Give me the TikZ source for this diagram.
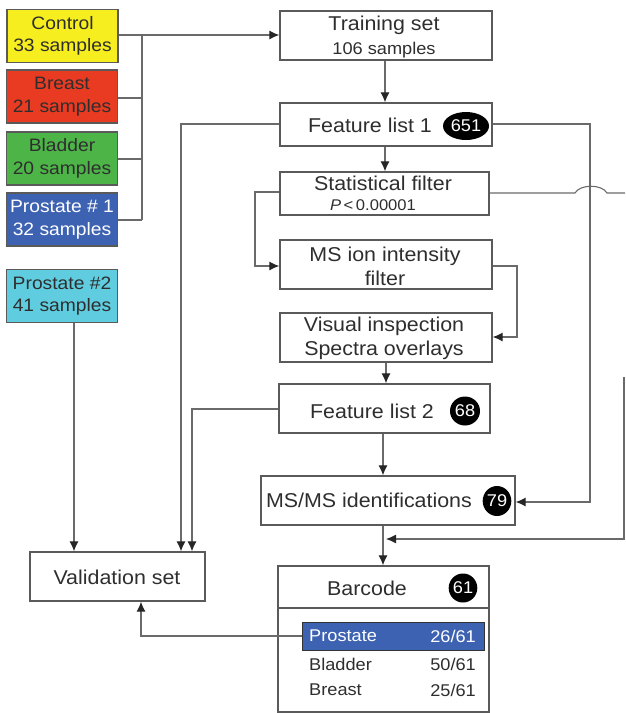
\documentclass[tikz,border=0pt]{standalone}
\usepackage{fontspec}
\setmainfont[FakeStretch=1.07]{Liberation Sans}
\usetikzlibrary{arrows.meta,calc,shapes.geometric}
\definecolor{ln}{HTML}{6A6A6A}
\definecolor{bx}{HTML}{5A5A5A}
\definecolor{tx}{HTML}{2E2E2E}
\definecolor{cyel}{HTML}{F6EE1F}
\definecolor{cred}{HTML}{E93A22}
\definecolor{cgrn}{HTML}{4DB548}
\definecolor{cblu}{HTML}{3E62B2}
\definecolor{ccya}{HTML}{5FCDDF}
\tikzset{
  box/.style={draw=bx,line width=1.3pt,rectangle,inner sep=0pt},
  lbox/.style={box,minimum width=111pt,minimum height=53pt,align=center,text=tx,font=\fontsize{18}{22.5}\selectfont},
  txt/.style={text=tx,inner sep=0pt,font=\fontsize{20}{24}\selectfont},
  stxt/.style={text=tx,inner sep=0pt,font=\fontsize{17}{20}\selectfont},
  badge/.style={fill=black,ellipse,text=white,inner sep=0pt,font=\fontsize{17}{18}\selectfont},
  conn/.style={draw=ln,line width=1.1pt},
  arr/.style={conn,-{Latex[length=10pt,width=9pt,color=black!85]}},
}
\begin{document}
\begin{tikzpicture}[x=1pt,y=-1pt]
\useasboundingbox (0,0) rectangle (625,713);
% left sample boxes
\node[lbox,fill=cyel] (control) at (62.5,36) {Control\\33 samples};
\node[lbox,fill=cred] (breast) at (62,96.5) {Breast\\21 samples};
\node[lbox,fill=cgrn] (bladder) at (62,158.5) {Bladder\\20 samples};
\node[lbox,fill=cblu,text=white] (pros1) at (62,219.5) {Prostate \# 1\\32 samples};
\node[lbox,fill=ccya] (pros2) at (62,296) {Prostate \#2\\41 samples};
% main boxes
\node[box,minimum width=212pt,minimum height=49pt] (train) at (386,35.5) {};
\node[txt] (trainA) at (384,25) {Training set};
\node[stxt] (trainB) at (384,50) {106 samples};
\node[box,minimum width=212pt,minimum height=43pt] (fl1) at (386,124.5) {};
\node[txt] (fl1t) at (370,125) {Feature list 1};
\node[badge,minimum width=46pt,minimum height=28pt] (b651) at (466,126) {651};
\node[box,minimum width=209pt,minimum height=43pt] (stat) at (384.5,193.5) {};
\node[txt] (statA) at (383,183) {Statistical filter};
\node[text=tx,inner sep=0pt,font=\fontsize{15.5}{17}\selectfont] (statB) at (373,205) {\textit{P}\,<\,0.00001};
\node[box,minimum width=212pt,minimum height=49pt] (msion) at (386,264.5) {};
\node[txt,align=center] (msiont) at (385,266) {MS ion intensity\\filter};
\node[box,minimum width=212pt,minimum height=49pt] (visual) at (386,337.5) {};
\node[txt,align=center] (visualt) at (384,338) {Visual inspection\\Spectra overlays};
\node[box,minimum width=211pt,minimum height=49pt] (fl2) at (384.5,408.5) {};
\node[txt] (fl2t) at (372,411) {Feature list 2};
\node[badge,minimum width=30pt,minimum height=29pt] (b68) at (465,411) {68};
\node[box,minimum width=254pt,minimum height=49pt] (msms) at (388,500.5) {};
\node[txt] (msmst) at (369,500) {MS/MS identifications};
\node[badge,minimum width=28pt,minimum height=30pt] (b79) at (497,501) {79};
\node[box,minimum width=175pt,minimum height=49pt] (valid) at (117.5,576.5) {};
\node[txt] (validt) at (117,577) {Validation set};
% barcode
\node[box,minimum width=211pt,minimum height=146pt] (barcode) at (383.5,639) {};
\draw[draw=bx,line width=1.3pt] (barcode.west |- 0,608) -- (barcode.east |- 0,608);
\node[txt] (bart) at (367,588) {Barcode};
\node[badge,minimum width=28pt,minimum height=29pt] (b61) at (463,588) {61};
\node[fill=cblu,draw=black!80,line width=1pt,minimum width=182pt,minimum height=28pt,inner sep=0pt] (prow) at (393,636) {};
\node[text=white,inner sep=0pt,font=\fontsize{17}{20}\selectfont,anchor=west] (prosA) at (309,636) {Prostate};
\node[text=white,inner sep=0pt,font=\fontsize{17}{20}\selectfont,anchor=east] (prosB) at (476,636) {26/61};
\node[stxt,anchor=west] (bladA) at (309,664) {Bladder};
\node[stxt,anchor=east] (bladB) at (476,664) {50/61};
\node[stxt,anchor=west] (brA) at (309,690) {Breast};
\node[stxt,anchor=east] (brB) at (476,690) {25/61};
% bus from sample boxes
\coordinate (bus) at (142,0);
\draw[arr] (control.east |- 0,35) -- (train.west |- 0,35);
\draw[conn] (bus |- 0,35) -- (bus |- 0,220);
\draw[conn] (breast.east |- 0,98) -- (bus |- 0,98);
\draw[conn] (bladder.east |- 0,159) -- (bus |- 0,159);
\draw[conn] (pros1.east |- 0,220) -- (bus |- 0,220);
% vertical flow
\draw[arr] (train.south -| 385,0) -- (fl1.north -| 385,0);
\draw[arr] (fl1.south -| 385,0) -- (stat.north -| 385,0);
\draw[arr] (stat.west |- 0,192) -| (255,266) -- (msion.west |- 0,266);
\draw[arr] (msion.east |- 0,266) -| (517,337) -- (visual.east |- 0,337);
\draw[arr] (visual.south -| 386,0) -- (fl2.north -| 386,0);
\draw[arr] (fl2.south -| 383,0) -- (msms.north -| 383,0);
\draw[arr] (msms.south -| 383,0) -- (barcode.north -| 383,0);
% feature list 1 to ms/ms
\draw[arr] (fl1.east |- 0,124) -| (590,502) -- (msms.east |- 0,502);
% statistical filter line with hop
\coordinate (redge) at (625,193);
\draw[conn] (stat.east |- 0,193) -- (575,193) .. controls (580,184) and (602,184) .. (607,193) -- (redge);
\coordinate (rtop) at (624,377);
\draw[arr] (rtop) -- (624,539) -- (386,539);
% to validation set
\draw[arr] (pros2.south -| 74,0) -- (valid.north -| 74,0);
\draw[arr] (fl1.west |- 0,124) -| (valid.north -| 181,0);
\draw[arr] (fl2.west |- 0,409) -| (valid.north -| 192,0);
\draw[arr] (prow.west) -| (valid.south -| 141,0);
\end{tikzpicture}
\end{document}
